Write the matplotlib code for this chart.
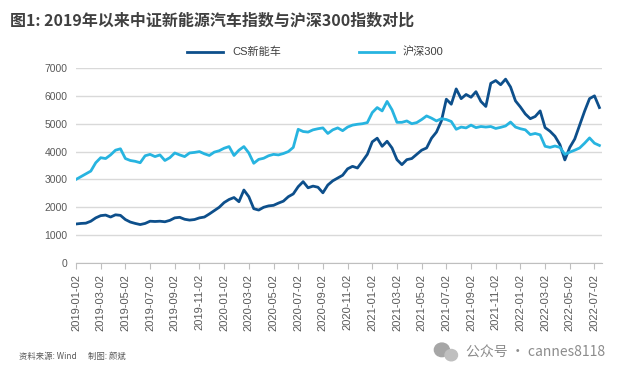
import matplotlib
matplotlib.use("Agg")
import matplotlib.pyplot as plt
from matplotlib.patches import Ellipse
import numpy as np

plt.rcParams['font.family'] = ['Liberation Sans', 'Noto Sans CJK SC', 'DejaVu Sans']

# tick labels along the x axis (every 5th sample)
tick_labels = ['2019-01-02', '2019-03-02', '2019-05-02', '2019-07-02', '2019-09-02',
               '2019-11-02', '2020-01-02', '2020-03-02', '2020-05-02', '2020-07-02',
               '2020-09-02', '2020-11-02', '2021-01-02', '2021-03-02', '2021-05-02',
               '2021-07-02', '2021-09-02', '2021-11-02', '2022-01-02', '2022-03-02',
               '2022-05-02', '2022-07-02']

# CS新能车 index
cs_nev = [1400, 1420, 1430, 1500, 1620, 1700, 1720, 1650, 1730, 1710,
          1560, 1470, 1420, 1380, 1420, 1500, 1490, 1500, 1480, 1530,
          1620, 1640, 1570, 1540, 1560, 1620, 1650, 1760, 1880, 2000,
          2170, 2280, 2350, 2200, 2620, 2380, 1950, 1900, 2000, 2050,
          2070, 2150, 2220, 2380, 2480, 2740, 2920, 2700, 2760, 2720,
          2520, 2800, 2950, 3050, 3150, 3380, 3470, 3410, 3650, 3900,
          4350, 4480, 4190, 4370, 4130, 3710, 3530, 3710, 3750, 3900,
          4050, 4130, 4480, 4700, 5100, 5880, 5700, 6250, 5900, 6050,
          5950, 6150, 5800, 5620, 6450, 6550, 6400, 6600, 6320, 5820,
          5600, 5350, 5180, 5260, 5460, 4860, 4730, 4550, 4250, 3700,
          4150, 4450, 4950, 5450, 5900, 6000, 5580]

# 沪深300 index
hs300 = [3000, 3100, 3200, 3300, 3600, 3780, 3750, 3880, 4050, 4100,
         3750, 3680, 3650, 3600, 3850, 3900, 3820, 3880, 3680, 3780,
         3950, 3880, 3820, 3950, 3970, 4000, 3920, 3860, 3980, 4030,
         4120, 4180, 3860, 4050, 4180, 3950, 3580, 3720, 3760, 3850,
         3900, 3880, 3930, 4000, 4150, 4800, 4720, 4700, 4780, 4820,
         4850, 4650, 4780, 4850, 4750, 4880, 4950, 4980, 5000, 5040,
         5400, 5580, 5460, 5800, 5500, 5050, 5050, 5100, 5000, 5040,
         5150, 5280, 5200, 5100, 5180, 5150, 5080, 4800, 4880, 4850,
         4950, 4860, 4900, 4880, 4900, 4830, 4870, 4920, 5060, 4880,
         4820, 4780, 4610, 4650, 4600, 4190, 4150, 4200, 4150, 3900,
         3980, 4050, 4130, 4300, 4490, 4300, 4220]

x = np.arange(len(cs_nev))

fig = plt.figure(figsize=(6.25, 3.77), dpi=100)
ax = fig.add_axes([0.1216, 0.3024, 0.8414, 0.5172])

ax.plot(x, cs_nev, color='#0d4f8b', lw=2.0, label='CS新能车')
ax.plot(x, hs300, color='#27b4e0', lw=2.0, label='沪深300')

ax.set_xlim(0, 106.5)
ax.set_ylim(0, 7000)
ax.set_yticks(range(0, 7001, 1000))
ax.set_xticks(np.arange(len(tick_labels)) * 5)
ax.set_xticklabels(tick_labels, rotation=90)

ax.grid(axis='y', color='#d9d9d9', lw=1)
ax.set_axisbelow(True)
for s in ['top', 'right', 'left']:
    ax.spines[s].set_visible(False)
ax.spines['bottom'].set_color('#bfbfbf')
ax.tick_params(axis='y', length=0, pad=6, labelsize=7.5, labelcolor='#595959')
ax.tick_params(axis='x', length=4, color='#bfbfbf', pad=4, labelsize=8, labelcolor='#595959')

fig.legend(loc='center', bbox_to_anchor=(0.505, 0.862), ncol=2, frameon=False,
           fontsize=8, handlelength=3.2, columnspacing=7, labelcolor='#404040')

fig.text(0.016, 0.945, '图1: 2019年以来中证新能源汽车指数与沪深300指数对比',
         family='Noto Sans CJK SC', fontsize=11.5, fontweight='bold', color='#404040', va='center')
fig.text(0.03, 0.055, '资料来源: Wind      制图: 颜斌', family=['Noto Sans CJK SC'],
         fontsize=6, style='italic', color='#595959', va='center')
fig.text(0.968, 0.065, '公众号 · cannes8118', family=['Noto Sans CJK SC'],
         fontsize=10, color='#8c8c8c', va='center', ha='right')

# small chat-bubble icon next to the watermark
fig.patches.append(Ellipse((0.707, 0.072), 0.024, 0.036, transform=fig.transFigure,
                           color='#a6a6a6'))
fig.patches.append(Ellipse((0.722, 0.058), 0.02, 0.03, transform=fig.transFigure,
                           color='#bfbfbf'))

fig.savefig('out.png', dpi=100)
